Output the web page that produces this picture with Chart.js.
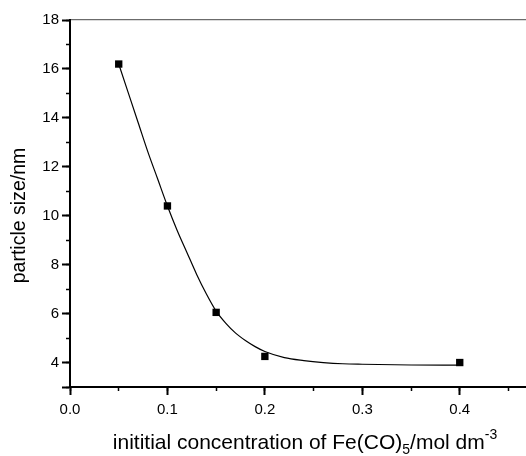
<!DOCTYPE html>
<html>
<head>
<meta charset="utf-8">
<script src="https://cdn.jsdelivr.net/npm/chart.js@4.4.1/dist/chart.umd.min.js"></script>
<style>
  html, body { margin:0; padding:0; background:#fff; overflow:hidden; }
  #wrap { width:526px; height:456px; }
</style>
</head>
<body>
<div id="wrap"><canvas id="chart" width="526" height="456"></canvas></div>
<script>
// measured points (squares)
const concX = [0.05, 0.1, 0.15, 0.2, 0.4];
const sizeY = [16.2, 10.4, 6.05, 4.25, 4.0];

// fitted curve
const fitX = [0.05, 0.06, 0.07, 0.08, 0.09, 0.10, 0.11, 0.12, 0.13, 0.14, 0.15, 0.16, 0.17, 0.18, 0.19, 0.20, 0.22, 0.24, 0.26, 0.28, 0.30, 0.35, 0.40];
const fitY = [16.2, 15.0, 13.8, 12.6, 11.5, 10.4, 9.4, 8.5, 7.6, 6.8, 6.1, 5.6, 5.2, 4.9, 4.65, 4.45, 4.2, 4.08, 4.0, 3.95, 3.93, 3.9, 3.89];

// tick labels
const xTickLabels = ['0.0', '0.1', '0.2', '0.3', '0.4'];
const yTickLabels = ['4', '6', '8', '10', '12', '14', '16', '18'];

const FONT = 'Liberation Sans, Arial, Helvetica, sans-serif';
const X_MAX = 0.468;

function pairs(xs, ys){ return xs.map((x,i)=>({x:x, y:ys[i]})); }

// horizontal scales: fixed height, no side padding so the plot runs to the right edge
function fitH(h){ return s => { s.height = h; s.paddingLeft = 0; s.paddingRight = 0; }; }

// axis titles drawn by hand (x title needs sub/superscript)
const titlePlugin = {
  id: 'axisTitles',
  afterDraw(chart){
    const ctx = chart.ctx;
    ctx.save();
    ctx.fillStyle = '#000';
    ctx.textBaseline = 'alphabetic';
    // x title
    const parts = [
      {t:'inititial concentration of Fe(CO)', size:21, dy:0},
      {t:'5', size:14, dy:5},
      {t:'/mol dm', size:21, dy:0},
      {t:'-3', size:14, dy:-10}
    ];
    let w = 0;
    parts.forEach(p=>{ ctx.font = p.size + 'px ' + FONT; p.w = ctx.measureText(p.t).width; w += p.w; });
    let x = 305 - w/2;
    parts.forEach(p=>{ ctx.font = p.size + 'px ' + FONT; ctx.fillText(p.t, x, 449 + p.dy); x += p.w; });
    // y title
    ctx.translate(25, 215.5);
    ctx.rotate(-Math.PI/2);
    ctx.textAlign = 'center';
    ctx.font = '19.5px ' + FONT;
    ctx.fillText('particle size/nm', 0, 0);
    ctx.restore();
  }
};

new Chart(document.getElementById('chart'), {
  type: 'scatter',
  data: {
    datasets: [
      {
        label: 'fit',
        data: pairs(fitX, fitY),
        showLine: true,
        borderColor: '#000',
        borderWidth: 1.2,
        pointRadius: 0,
        cubicInterpolationMode: 'monotone',
        fill: false
      },
      {
        label: 'particle size',
        data: pairs(concX, sizeY),
        showLine: false,
        pointStyle: 'rect',
        pointRadius: 5.2,
        backgroundColor: '#000',
        borderColor: '#000',
        borderWidth: 0
      }
    ]
  },
  options: {
    responsive: false,
    animation: false,
    layout: { padding: 0, autoPadding: false },
    plugins: { legend: { display: false }, tooltip: { enabled: false } },
    scales: {
      // minor ticks (short), zero-size box next to the chart area
      xMinor: {
        type: 'linear', position: 'bottom', weight: 0,
        min: 0, max: X_MAX,
        afterFit: fitH(0),
        ticks: { stepSize: 0.05, includeBounds: false, display: false },
        grid: { drawOnChartArea: false, tickLength: 4, tickColor: '#000', tickWidth: 1.5 },
        border: { display: false }
      },
      x: {
        type: 'linear', position: 'bottom', weight: 1,
        min: 0, max: X_MAX,
        afterFit: fitH(69),
        ticks: {
          stepSize: 0.1,
          includeBounds: false,
          padding: 6,
          color: '#000',
          font: { family: FONT, size: 15 },
          maxRotation: 0,
          autoSkip: false,
          callback: v => xTickLabels[Math.round(v*10)] || ''
        },
        grid: { drawOnChartArea: false, tickLength: 8, tickColor: '#000', tickWidth: 2 },
        border: { color: '#000', width: 2 }
      },
      xTop: {
        type: 'linear', position: 'top',
        min: 0, max: X_MAX,
        afterFit: fitH(20),
        ticks: { display: false },
        grid: { drawOnChartArea: false, drawTicks: false },
        border: { color: '#6b6b6b', width: 1.2 }
      },
      yMinor: {
        type: 'linear', position: 'left', weight: 0,
        min: 3, max: 18,
        afterFit: s => { s.width = 0; },
        ticks: { stepSize: 1, display: false },
        grid: { drawOnChartArea: false, tickLength: 4, tickColor: '#000', tickWidth: 1.5 },
        border: { display: false }
      },
      y: {
        type: 'linear', position: 'left', weight: 1,
        min: 3, max: 18,
        afterFit: s => { s.width = 70; },
        ticks: {
          stepSize: 2,
          padding: 3,
          color: '#000',
          font: { family: FONT, size: 15 },
          autoSkip: false,
          callback: v => (v % 2 === 0 ? (yTickLabels[(v-4)/2] || '') : '')
        },
        grid: { drawOnChartArea: false, tickLength: 8, tickColor: '#000', tickWidth: 2 },
        border: { color: '#000', width: 2 }
      }
    }
  },
  plugins: [titlePlugin]
});
</script>
</body>
</html>
